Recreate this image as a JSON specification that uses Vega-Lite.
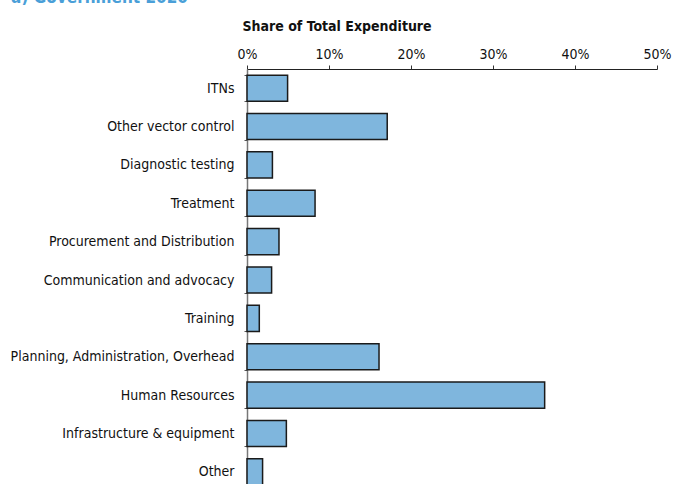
{
  "$schema": "https://vega.github.io/schema/vega-lite/v6.json",
  "width": 410,
  "height": 422,
  "autosize": {"type": "none"},
  "padding": {"left": 247, "top": 69, "right": 19, "bottom": 0},
  "background": "white",
  "title": {
    "text": "a) Government 2020",
    "anchor": "start",
    "frame": "bounds",
    "orient": "top",
    "offset": 12,
    "dx": 1,
    "font": "DejaVu Sans Condensed",
    "fontSize": 17,
    "fontWeight": "bold",
    "color": "#4a9fd8"
  },
  "data": {
    "values": [
      {"category": "ITNs", "share": 4.95},
      {"category": "Other vector control", "share": 17.1},
      {"category": "Diagnostic testing", "share": 3.1},
      {"category": "Treatment", "share": 8.3},
      {"category": "Procurement and Distribution", "share": 3.9},
      {"category": "Communication and advocacy", "share": 3.0},
      {"category": "Training", "share": 1.5},
      {"category": "Planning, Administration, Overhead", "share": 16.1},
      {"category": "Human Resources", "share": 36.3},
      {"category": "Infrastructure & equipment", "share": 4.8},
      {"category": "Other", "share": 1.9}
    ]
  },
  "mark": {"type": "bar", "fill": "#7fb6dd", "stroke": "#1a1a1a", "strokeWidth": 1.5},
  "encoding": {
    "y": {
      "field": "category",
      "type": "nominal",
      "sort": null,
      "scale": {"paddingInner": 0.32, "paddingOuter": 0.16},
      "axis": {
        "title": null,
        "tickBand": "extent",
        "labelFont": "DejaVu Sans Condensed",
        "labelFontSize": 14,
        "labelColor": "#111111",
        "labelPadding": 10,
        "labelLimit": 300,
        "tickSize": 3,
        "tickColor": "#555555",
        "domainColor": "#777777",
        "domainWidth": 1.5
      }
    },
    "x": {
      "field": "share",
      "type": "quantitative",
      "scale": {"domain": [0, 50], "nice": false},
      "axis": {
        "orient": "top",
        "title": "Share of Total Expenditure",
        "titleFont": "DejaVu Sans Condensed",
        "titleFontSize": 14,
        "titleFontWeight": "bold",
        "titleColor": "#111111",
        "titleAnchor": "start",
        "titleAlign": "left",
        "titleX": -5,
        "titlePadding": 14,
        "values": [0, 10, 20, 30, 40, 50],
        "labelExpr": "datum.value + '%'",
        "labelFont": "DejaVu Sans Condensed",
        "labelFontSize": 14,
        "labelColor": "#111111",
        "labelDx": 4,
        "labelPadding": 4,
        "labelFlush": false,
        "grid": false,
        "tickSize": 4,
        "tickColor": "#333333",
        "domainColor": "#222222",
        "domainWidth": 1.2
      }
    }
  },
  "config": {"view": {"stroke": null}}
}
